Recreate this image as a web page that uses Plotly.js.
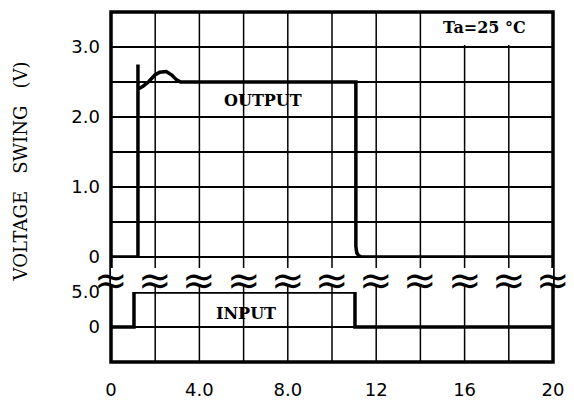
<!DOCTYPE html>
<html><head><meta charset="utf-8">
<script src="https://cdn.plot.ly/plotly-3.0.1.min.js"></script>
<style>html,body{margin:0;padding:0;background:#fff}</style>
</head><body><div id="chart" style="width:574px;height:405px"></div>
<script>
// ---- data ----
const outputTime = [0, 1.22, 1.22, 1.22, 1.45, 1.69, 1.99, 2.2, 2.5, 2.75, 2.97, 3.15, 11.08, 11.08, 11.12, 11.2, 11.35, 20];
const outputVolt = [0, 0, 2.75, 2.4, 2.44, 2.5, 2.6, 2.64, 2.65, 2.6, 2.53, 2.5, 2.5, 0.15, 0.06, 0.02, 0, 0];
const inputTime = [0, 1.04, 1.04, 11.04, 11.04, 20];
const inputVolt = [0, 0, 5, 5, 0, 0];

const xTickVals = [0, 2, 4, 6, 8, 10, 12, 14, 16, 18, 20];
const xTickText = ['0', '', '4.0', '', '8.0', '', '12', '', '16', '', '20'];
const outTickVals = [0, 0.5, 1, 1.5, 2, 2.5, 3, 3.5];
const outTickText = ['0', '', '1.0', '', '2.0', '', '3.0', ''];
const inTickVals = [0, 5];
const inTickText = ['0', '5.0'];

const lineW = 3.5, gridW = 1.5;
const tickFont = {family: 'DejaVu Sans', size: 18, color: '#000'};
const labelFont = {family: 'DejaVu Serif', size: 16, color: '#000', weight: 'bold'};

const traces = [
  {x: outputTime, y: outputVolt, xaxis: 'x', yaxis: 'y', mode: 'lines',
   line: {color: '#000', width: lineW}, hoverinfo: 'skip', showlegend: false},
  {x: inputTime, y: inputVolt, xaxis: 'x', yaxis: 'y2', mode: 'lines',
   line: {color: '#000', width: lineW}, hoverinfo: 'skip', showlegend: false}
];

const shapes = [];
xTickVals.slice(1, -1).forEach(v => shapes.push({
  type: 'line', xref: 'x', yref: 'paper', x0: v, x1: v, y0: 0, y1: 1,
  line: {color: '#000', width: gridW}, layer: 'below'
}));
// white box behind the temperature note
shapes.push({type: 'rect', xref: 'x', yref: 'y', x0: 14.1, x1: 19.95, y0: 3.03, y1: 3.5,
  fillcolor: '#fff', line: {width: 0}, layer: 'below'});
// frame
shapes.push({type: 'rect', xref: 'paper', yref: 'paper', x0: 0, x1: 1, y0: 0, y1: 1,
  line: {color: '#000', width: lineW}, layer: 'above'});
// white gaps for the axis-break marks
const breakY = 0.243;
xTickVals.forEach(v => shapes.push({
  type: 'rect', xref: 'x', yref: 'paper', xsizemode: 'pixel', ysizemode: 'pixel',
  xanchor: v, yanchor: breakY, x0: -13, x1: 13, y0: -9, y1: 9,
  fillcolor: '#fff', line: {width: 0}, layer: 'above'
}));

const annotations = [
  {text: 'OUTPUT', xref: 'x', yref: 'y', x: 6.88, y: 2.24, showarrow: false, font: labelFont},
  {text: 'INPUT', xref: 'x', yref: 'y2', x: 6.1, y: 2.0, showarrow: false, font: labelFont},
  {text: 'Ta=25 °C', xref: 'x', yref: 'y', x: 16.9, y: 3.28, showarrow: false,
   font: {family: 'DejaVu Serif', size: 16, color: '#000', weight: 'bold'}},
  {text: 'VOLTAGE   SWING   (V)', xref: 'paper', yref: 'paper', x: -0.204, y: 0.544,
   xanchor: 'center', yanchor: 'middle', textangle: -90, showarrow: false,
   font: {family: 'DejaVu Serif', size: 18, color: '#000'}}
];
xTickVals.forEach(v => annotations.push({
  text: '≈', xref: 'x', yref: 'paper', x: v, y: 0.245, showarrow: false,
  font: {family: 'DejaVu Sans', size: 40, color: '#000'},
  yanchor: 'middle', yshift: -4
}));

const layout = {
  width: 574, height: 405,
  margin: {l: 111, r: 21, t: 12, b: 43},
  paper_bgcolor: '#fff', plot_bgcolor: '#fff',
  showlegend: false,
  xaxis: {range: [0, 20], tickmode: 'array', tickvals: xTickVals, ticktext: xTickText,
    showgrid: false, zeroline: false, showline: false, ticks: '', tickfont: tickFont,
    ticklabelstandoff: 15, anchor: 'y2', fixedrange: true},
  yaxis: {domain: [0.3, 1], range: [0, 3.5], tickmode: 'array', tickvals: outTickVals, ticktext: outTickText,
    showgrid: true, gridcolor: '#000', gridwidth: gridW, zeroline: true, zerolinecolor: '#000',
    zerolinewidth: gridW, showline: false, ticks: '', tickfont: tickFont, ticklabelstandoff: 10,
    anchor: 'x', fixedrange: true},
  yaxis2: {domain: [0, 0.2], range: [-5, 5], tickmode: 'array', tickvals: inTickVals, ticktext: inTickText,
    showgrid: true, gridcolor: '#000', gridwidth: gridW, zeroline: true, zerolinecolor: '#000',
    zerolinewidth: gridW, showline: false, ticks: '', tickfont: tickFont, ticklabelstandoff: 10,
    anchor: 'x', fixedrange: true},
  shapes: shapes,
  annotations: annotations
};

Plotly.newPlot('chart', traces, layout, {staticPlot: true, displayModeBar: false});
</script>
</body></html>
